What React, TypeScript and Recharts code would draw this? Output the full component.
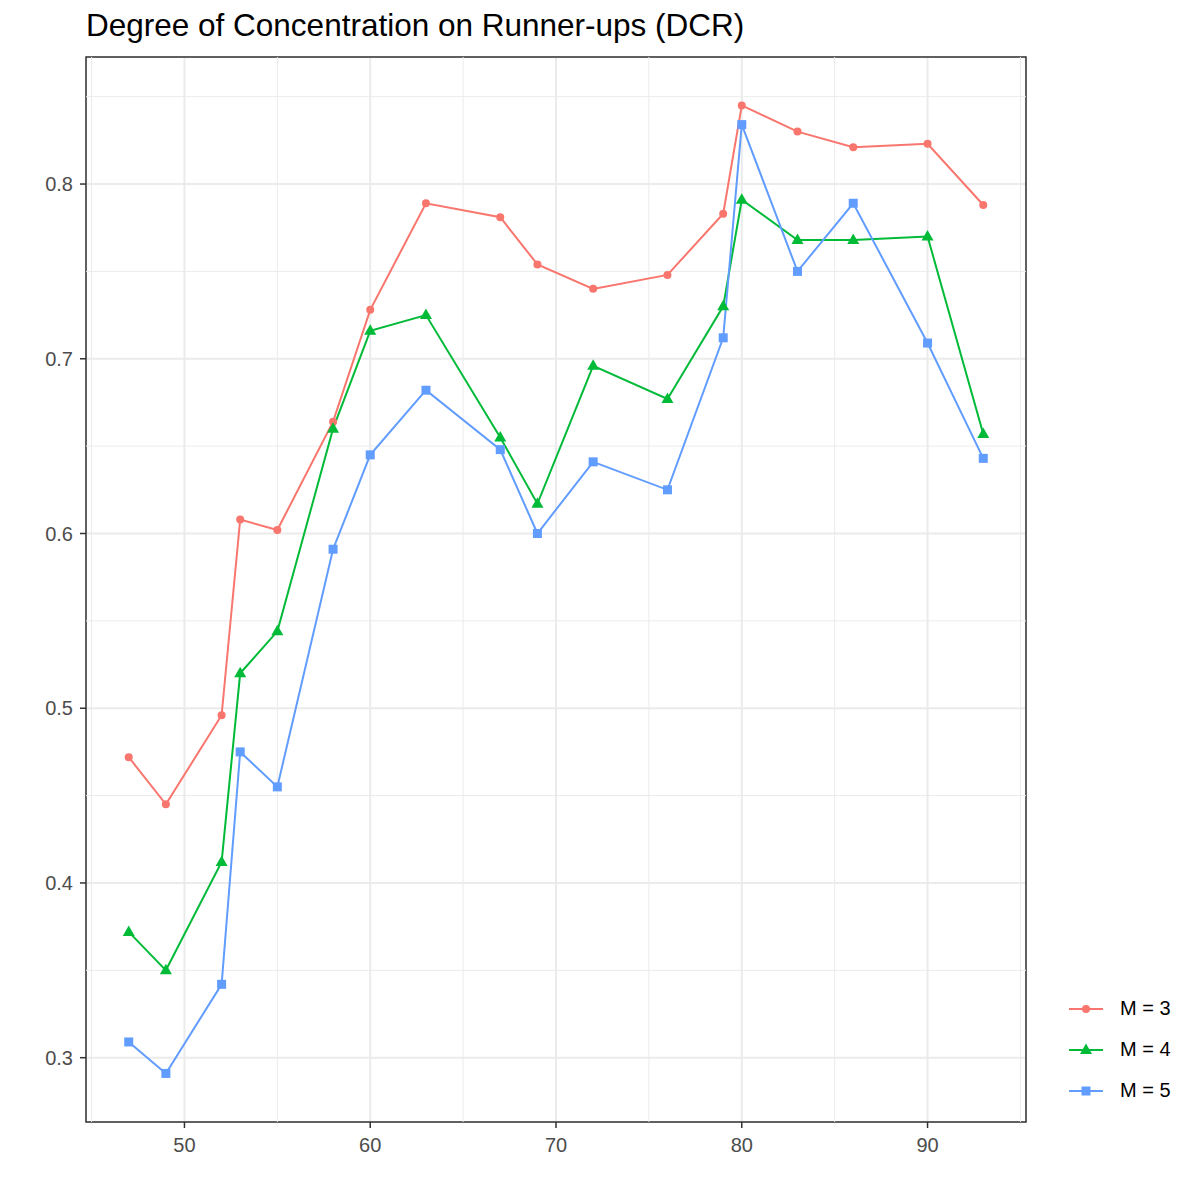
import { LineChart, Line, XAxis, YAxis, CartesianGrid, ReferenceLine, ReferenceArea } from "recharts";

const X = [47, 49, 52, 53, 55, 58, 60, 63, 67, 69, 72, 76, 79, 80, 83, 86, 90, 93];
const M3 = [0.472, 0.445, 0.496, 0.608, 0.602, 0.664, 0.728, 0.789, 0.781, 0.754, 0.74, 0.748, 0.783, 0.845, 0.83, 0.821, 0.823, 0.788];
const M4 = [0.372, 0.35, 0.412, 0.52, 0.544, 0.66, 0.716, 0.725, 0.655, 0.617, 0.696, 0.677, 0.73, 0.791, 0.768, 0.768, 0.77, 0.657];
const M5 = [0.309, 0.291, 0.342, 0.475, 0.455, 0.591, 0.645, 0.682, 0.648, 0.6, 0.641, 0.625, 0.712, 0.834, 0.75, 0.789, 0.709, 0.643];

const X_TICKS = [50, 60, 70, 80, 90];
const X_MINOR = [45, 55, 65, 75, 85, 95];
const Y_TICKS = [0.3, 0.4, 0.5, 0.6, 0.7, 0.8];
const Y_MINOR = [0.35, 0.45, 0.55, 0.65, 0.75, 0.85];

const SERIES = [
  { key: "m3", name: "M = 3", color: "#F8766D", shape: "circle" },
  { key: "m4", name: "M = 4", color: "#00BA38", shape: "triangle" },
  { key: "m5", name: "M = 5", color: "#619CFF", shape: "square" },
];

const data = X.map((x, i) => ({ x, m3: M3[i], m4: M4[i], m5: M5[i] }));

const X_DOMAIN = [44.7, 95.3];
const Y_DOMAIN = [0.2632, 0.8727];
const FONT = "'Liberation Sans', Arial, sans-serif";
const tick = { fill: "#4D4D4D", fontSize: 20, fontFamily: FONT };

function Marker({ shape, color, cx, cy }: any) {
  if (shape === "circle") return <circle cx={cx} cy={cy} r={4} fill={color} />;
  if (shape === "triangle")
    return <polygon points={`${cx},${cy - 6.5} ${cx - 6},${cy + 4} ${cx + 6},${cy + 4}`} fill={color} />;
  return <rect x={cx - 4.5} y={cy - 4.5} width={9} height={9} fill={color} />;
}

const makeDot = (shape: string, color: string) => (props: any) => {
  const { cx, cy, index } = props;
  if (cx == null || cy == null) return <g key={index} />;
  return (
    <g key={index}>
      <Marker shape={shape} color={color} cx={cx} cy={cy} />
    </g>
  );
};

function LegendBox() {
  return (
    <div
      style={{
        position: "absolute",
        left: 1066,
        top: 988,
        fontFamily: FONT,
        fontSize: 20,
        color: "#000",
      }}
    >
      {SERIES.map((s) => (
        <div key={s.key} style={{ display: "flex", alignItems: "center", height: 41 }}>
          <svg width={50} height={20}>
            <line x1={3} x2={37} y1={10} y2={10} stroke={s.color} strokeWidth={2} />
            <Marker shape={s.shape} color={s.color} cx={20} cy={10} />
          </svg>
          <span style={{ marginLeft: 4 }}>{s.name}</span>
        </div>
      ))}
    </div>
  );
}

export default function App() {
  return (
    <div style={{ position: "relative", width: 1200, height: 1200, background: "#fff" }}>
      <style>{`body{margin:0}`}</style>
      <div
        style={{
          position: "absolute",
          left: 86,
          top: 7,
          fontFamily: FONT,
          fontSize: 31.5,
          color: "#000",
          whiteSpace: "nowrap",
        }}
      >
        Degree of Concentration on Runner-ups (DCR)
      </div>
      <LineChart width={1200} height={1200} data={data} margin={{ top: 57, right: 174, bottom: 0, left: 0 }}>
        <CartesianGrid stroke="#EBEBEB" strokeWidth={2} />
        {X_MINOR.map((v) => (
          <ReferenceLine key={"vx" + v} x={v} stroke="#EBEBEB" strokeWidth={1} />
        ))}
        {Y_MINOR.map((v) => (
          <ReferenceLine key={"hy" + v} y={v} stroke="#EBEBEB" strokeWidth={1} />
        ))}
        <XAxis
          dataKey="x"
          type="number"
          domain={X_DOMAIN}
          ticks={X_TICKS}
          height={78}
          tick={tick}
          tickSize={6}
          tickMargin={10}
          axisLine={false}
          tickLine={{ stroke: "#333333", strokeWidth: 1.5 }}
        />
        <YAxis
          type="number"
          domain={Y_DOMAIN}
          ticks={Y_TICKS}
          width={86}
          tick={tick}
          tickSize={6}
          tickMargin={7}
          axisLine={false}
          tickLine={{ stroke: "#333333", strokeWidth: 1.5 }}
        />
        <ReferenceArea
          x1={X_DOMAIN[0]}
          x2={X_DOMAIN[1]}
          y1={Y_DOMAIN[0]}
          y2={Y_DOMAIN[1]}
          fill="none"
          fillOpacity={0}
          stroke="#333333"
          strokeWidth={1.5}
        />
        {SERIES.map((s) => (
          <Line
            key={s.key}
            dataKey={s.key}
            name={s.name}
            stroke={s.color}
            strokeWidth={2}
            dot={makeDot(s.shape, s.color)}
            activeDot={false}
            isAnimationActive={false}
          />
        ))}
      </LineChart>
      <LegendBox />
    </div>
  );
}
